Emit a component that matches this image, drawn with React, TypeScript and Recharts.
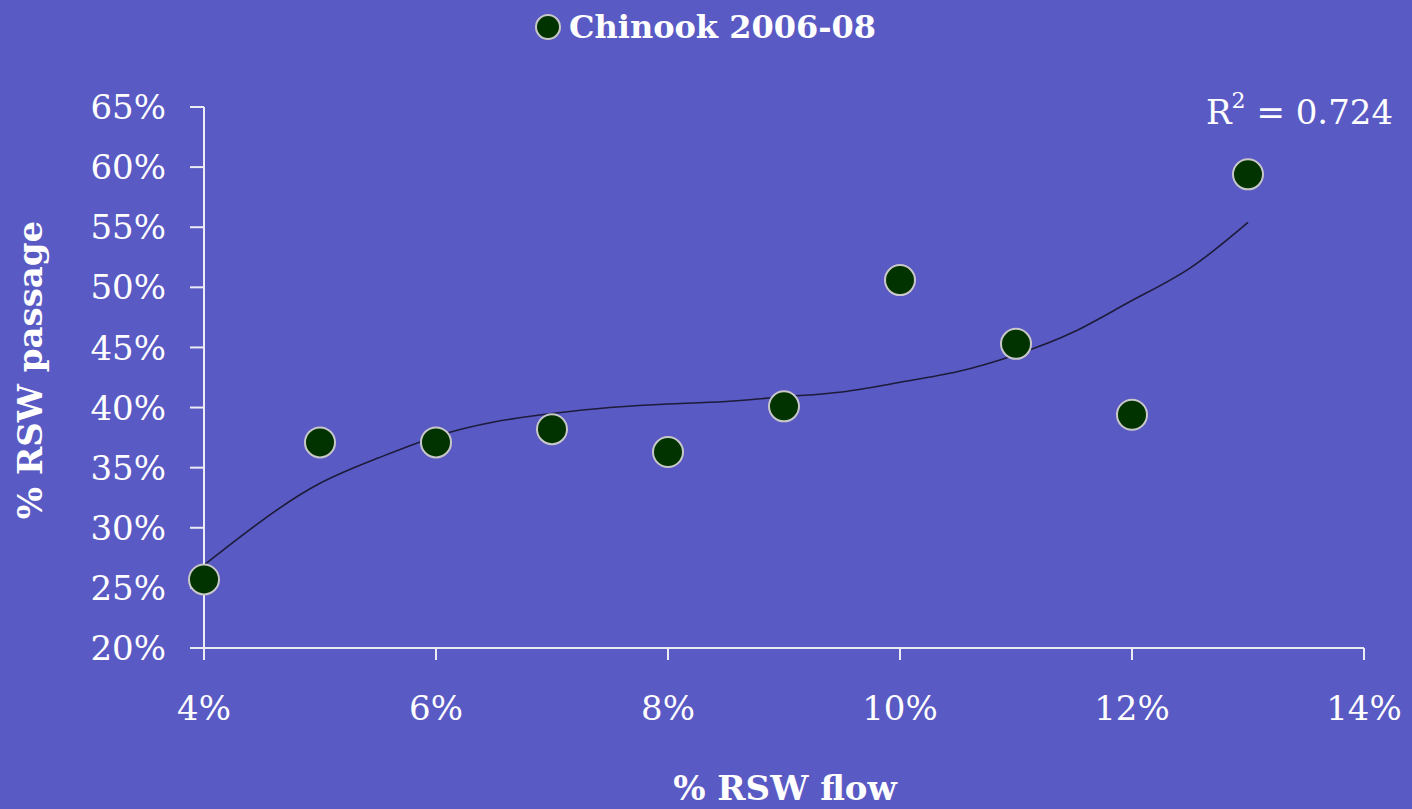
import { ComposedChart, Scatter, Line, XAxis, YAxis } from "recharts";

const BG = "#5a5ac4";
const FONT = "'DejaVu Serif', 'Liberation Serif', serif";

// measured points: % RSW flow vs % RSW passage
const flow = [4, 5, 6, 7, 8, 9, 10, 11, 12, 13];
const passage = [25.7, 37.1, 37.1, 38.2, 36.3, 40.1, 50.6, 45.3, 39.4, 59.4];

// trend line
const trendFlow = [4, 4.5, 5, 5.5, 6, 6.5, 7, 7.5, 8, 8.5, 9, 9.5, 10, 10.5, 11, 11.5, 12, 12.5, 13];
const trendPassage = [26.9, 30.6, 33.7, 35.8, 37.6, 38.8, 39.5, 40.0, 40.3, 40.5, 40.9, 41.3, 42.1, 43.0, 44.4, 46.3, 48.9, 51.6, 55.4];

const xTicks = [4, 6, 8, 10, 12, 14];
const yTicks = [20, 25, 30, 35, 40, 45, 50, 55, 60, 65];

const points = flow.map((f, i) => ({ flow: f, passage: passage[i] }));
const trend = trendFlow.map((f, i) => ({ flow: f, trend: trendPassage[i] }));

const pct = (v: number) => `${v}%`;

export default function App() {
  return (
    <div style={{ position: "fixed", top: 0, left: 0, width: 1412, height: 809, background: BG, fontFamily: FONT, overflow: "hidden" }}>
      <ComposedChart width={1412} height={809} margin={{ top: 107, right: 48, bottom: 101, left: 0 }}>
        <XAxis
          type="number"
          dataKey="flow"
          domain={[4, 14]}
          ticks={xTicks}
          tickFormatter={pct}
          height={60}
          stroke="#ececf4"
          strokeWidth={2}
          tickSize={12}
          tickMargin={36}
          tick={{ fill: "#ffffff", fontSize: 34, fontFamily: FONT }}
        />
        <YAxis
          type="number"
          domain={[20, 65]}
          ticks={yTicks}
          tickFormatter={pct}
          width={204}
          stroke="#ececf4"
          strokeWidth={2}
          tickSize={14}
          tickMargin={24}
          tick={{ fill: "#ffffff", fontSize: 34, fontFamily: FONT }}
        />
        <Line
          data={trend}
          dataKey="trend"
          type="natural"
          stroke="#1c1c3a"
          strokeWidth={1.6}
          dot={false}
          isAnimationActive={false}
        />
        <Scatter
          data={points}
          dataKey="passage"
          fill="#003300"
          stroke="#c8c8c8"
          strokeWidth={2}
          shape={(p: any) => <circle cx={p.cx} cy={p.cy} r={15} fill="#003300" stroke="#c8c8c8" strokeWidth={2} />}
          isAnimationActive={false}
        />
      </ComposedChart>

      {/* legend */}
      <div style={{ position: "absolute", top: 8, left: 533, display: "flex", alignItems: "center", color: "#fff", fontWeight: "bold", fontSize: 32 }}>
        <svg width={30} height={30} style={{ marginRight: 6 }}>
          <circle cx={15} cy={15} r={12} fill="#003300" stroke="#c8c8c8" strokeWidth={2} />
        </svg>
        <span>Chinook 2006-08</span>
      </div>

      {/* R squared */}
      <div style={{ position: "absolute", top: 92, left: 1206, color: "#fff", fontSize: 34 }}>
        R<sup style={{ fontSize: 22, verticalAlign: "top", position: "relative", top: -4 }}>2</sup> = 0.724
      </div>

      {/* axis titles */}
      <div style={{ position: "absolute", top: 768, left: 0, width: 1570, textAlign: "center", color: "#fff", fontWeight: "bold", fontSize: 34 }}>
        % RSW flow
      </div>
      <div style={{ position: "absolute", top: 370, left: 30, transform: "translate(-50%, -50%) rotate(-90deg)", whiteSpace: "nowrap", color: "#fff", fontWeight: "bold", fontSize: 34 }}>
        % RSW passage
      </div>
    </div>
  );
}
